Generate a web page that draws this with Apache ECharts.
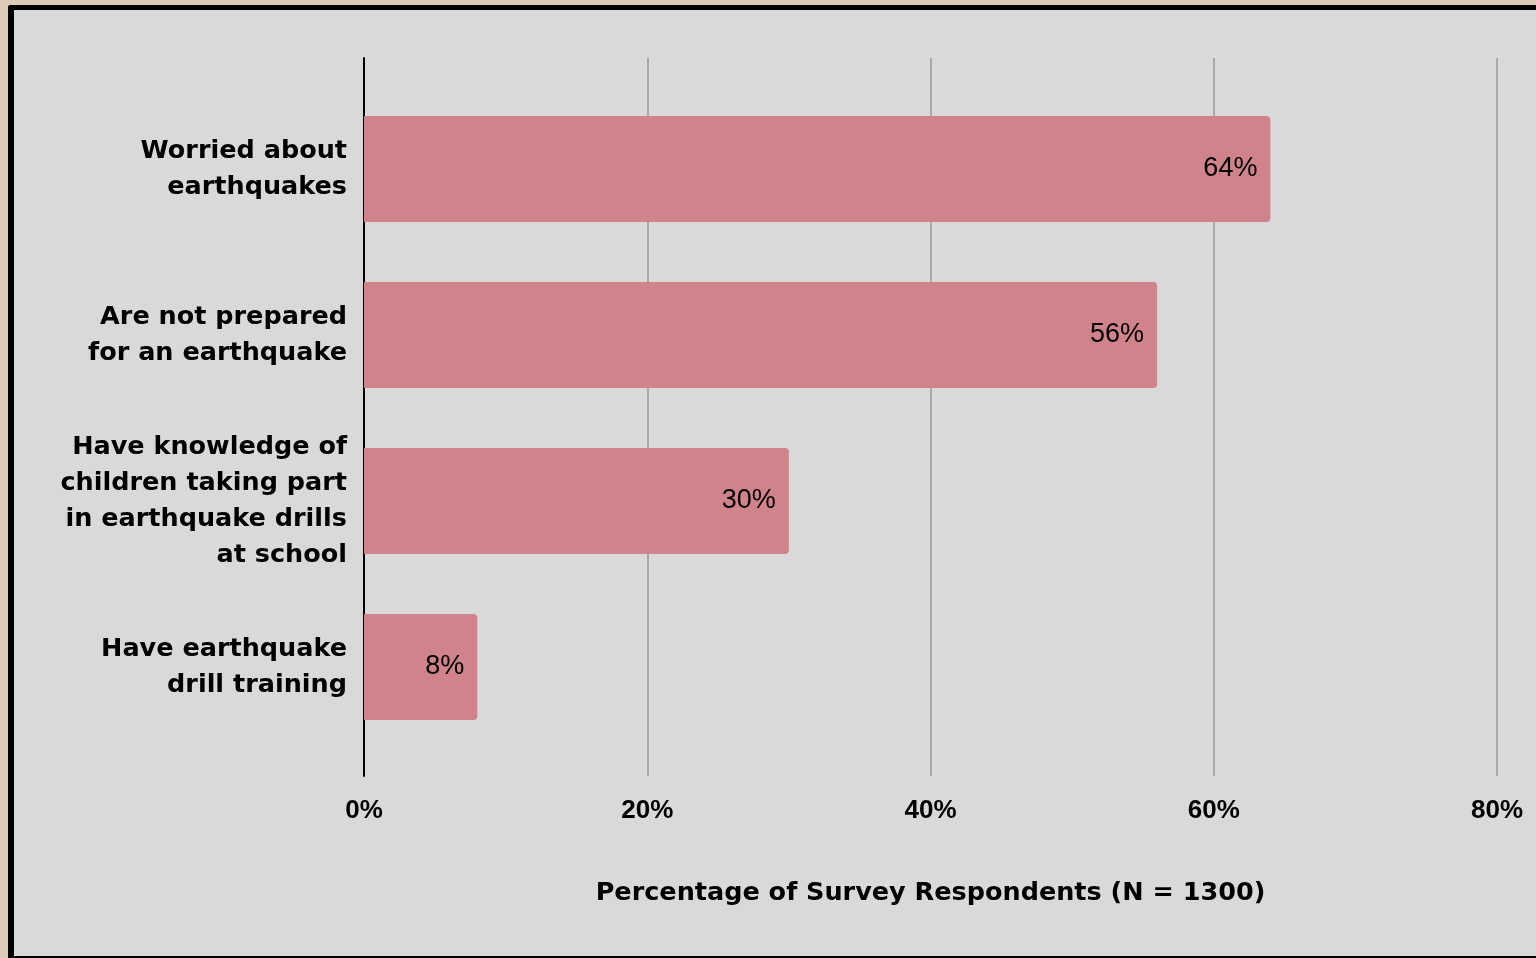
<!DOCTYPE html>
<html>
<head>
<meta charset="utf-8">
<script src="https://cdn.jsdelivr.net/npm/echarts@6/dist/echarts.min.js"></script>
<style>
  html, body { margin: 0; padding: 0; background: #dccbb8; overflow: hidden; }
  #frame {
    position: absolute; left: 8px; top: 5px; width: 1540px; height: 946px;
    background: #d9d9d9; border-left: 6px solid #000; border-top: 5px solid #000;
    border-bottom: 2px solid #000; border-top-left-radius: 3px;
  }
  #chart { position: absolute; left: 0; top: 0; width: 1536px; height: 958px; }
</style>
</head>
<body>
<div id="frame"></div>
<div id="chart"></div>
<script>
const categories = [
    'Worried about\nearthquakes',
    'Are not prepared\nfor an earthquake',
    'Have knowledge of\nchildren taking part\nin earthquake drills\nat school',
    'Have earthquake\ndrill training'
];
const values = [64, 56, 30, 8];
const xTicks = [0, 20, 40, 60, 80];
const axisTitle = 'Percentage of Survey Respondents (N = 1300)';

const chart = echarts.init(document.getElementById('chart'));
const font = '"Liberation Sans", Arial, sans-serif';
const wideFont = '"DejaVu Sans", sans-serif';

const option = {
    backgroundColor: 'transparent',
    animation: false,
    textStyle: { fontFamily: font },
    grid: [
        // gridlines + axis line
        { left: 364, right: 39, top: 58, bottom: 182 },
        // bars
        { left: 364, right: 39, top: 86, bottom: 208 }
    ],
    xAxis: [
        {
            gridIndex: 0,
            type: 'value',
            min: xTicks[0],
            max: xTicks[xTicks.length - 1],
            interval: 20,
            axisLine: { show: false },
            axisTick: { show: false },
            splitLine: { lineStyle: { color: '#a9a9a9', width: 2 } },
            axisLabel: {
                formatter: '{value}%',
                fontSize: 26,
                fontWeight: 'bold',
                color: '#000',
                margin: 22,
                fontFamily: font
            },
            name: axisTitle,
            nameLocation: 'middle',
            nameGap: 104,
            nameTextStyle: { fontSize: 25.5, fontWeight: 'bold', color: '#000', fontFamily: wideFont }
        },
        {
            gridIndex: 1,
            type: 'value',
            min: 0,
            max: 80,
            show: false
        }
    ],
    yAxis: [
        {
            gridIndex: 0,
            type: 'category',
            data: categories,
            inverse: true,
            axisLine: { lineStyle: { color: '#000', width: 2 } },
            axisTick: { show: false },
            axisLabel: { show: false },
            splitLine: { show: false }
        },
        {
            gridIndex: 1,
            type: 'category',
            data: categories,
            inverse: true,
            axisLine: { show: false },
            axisTick: { show: false },
            axisLabel: {
                fontSize: 25.5,
                fontWeight: 'bold',
                color: '#000',
                lineHeight: 36,
                align: 'right',
                margin: 17,
                fontFamily: wideFont
            }
        }
    ],
    series: [
        {
            type: 'bar',
            xAxisIndex: 1,
            yAxisIndex: 1,
            data: values,
            barCategoryGap: '36%',
            itemStyle: { color: '#d0838a', borderRadius: [0, 4, 4, 0] },
            label: {
                show: true,
                position: 'insideRight',
                distance: 13,
                formatter: '{c}%',
                fontSize: 27,
                color: '#000',
                fontFamily: font
            }
        }
    ]
};

chart.setOption(option);
</script>
</body>
</html>
